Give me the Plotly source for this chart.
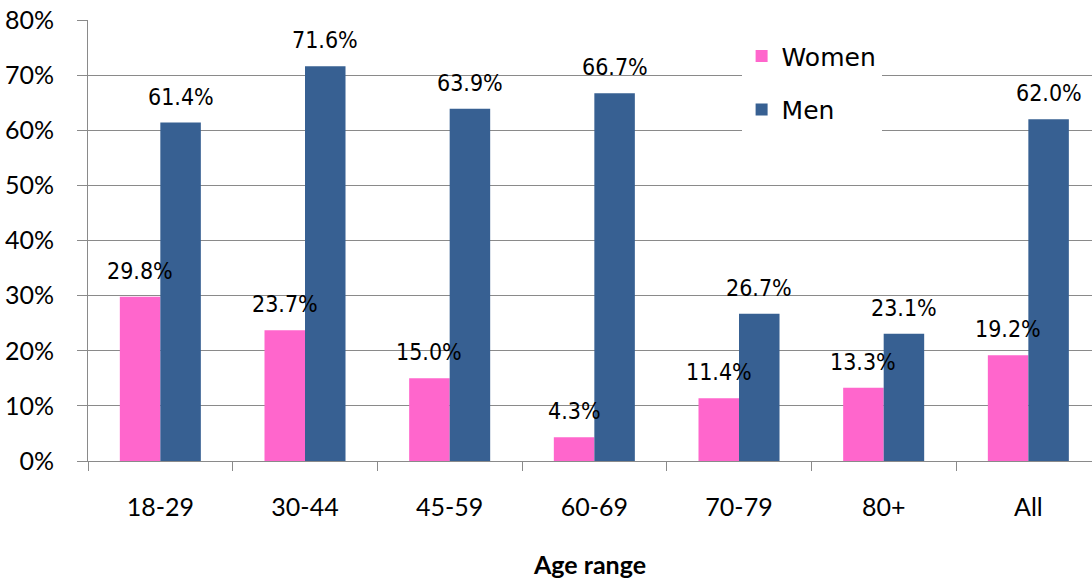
import plotly.graph_objects as go

categories = ["18-29", "30-44", "45-59", "60-69", "70-79", "80+", "All"]
women = [29.8, 23.7, 15.0, 4.3, 11.4, 13.3, 19.2]
men = [61.4, 71.6, 63.9, 66.7, 26.7, 23.1, 62.0]
y_ticks = [0, 10, 20, 30, 40, 50, 60, 70, 80]
y_tick_labels = ["0%", "10%", "20%", "30%", "40%", "50%", "60%", "70%", "80%"]

PINK = "#FF66CC"
BLUE = "#376092"
GRID = "#8a8a8a"

BARGAP = 0.44
bar_w = (1 - BARGAP) / 2

fig = go.Figure()
fig.add_trace(go.Bar(name="Women", x=categories, y=women, marker=dict(color=PINK, line=dict(width=0)),
                     legendgroup="w"))
fig.add_trace(go.Bar(name="Men", x=categories, y=men, marker=dict(color=BLUE, line=dict(width=0)),
                     legendgroup="m"))

label_font = dict(family="Liberation Sans Narrow, DejaVu Sans Condensed, sans-serif", size=23, color="black")
annotations = []
for i, (w, m) in enumerate(zip(women, men)):
    for val, off in ((w, -bar_w / 2), (m, bar_w / 2)):
        annotations.append(dict(x=i + off, y=val, xref="x", yref="y", text=f"{val:.1f}%",
                                showarrow=False, yanchor="bottom", xanchor="center",
                                yshift=11, font=label_font))

fig.update_layout(
    width=1092, height=580,
    margin=dict(l=88, r=0, t=20, b=119),
    paper_bgcolor="white", plot_bgcolor="white",
    barmode="group", bargap=BARGAP, bargroupgap=0,
    annotations=annotations,
    showlegend=True,
    legend=dict(x=0.651, y=0.97, xanchor="left", yanchor="top", bgcolor="white",
                font=dict(family="DejaVu Sans", size=25, color="black"),
                traceorder="grouped", tracegroupgap=18, borderwidth=0),
    xaxis=dict(
        type="category", range=[-0.5, 6.44],
        showline=True, linecolor=GRID, linewidth=1,
        ticks="outside", tickson="boundaries", ticklen=9, tickcolor=GRID, tickwidth=1,
        showgrid=False,
        tickfont=dict(family="Lato", size=25, color="black"),
        ticklabelstandoff=24,
        title=dict(text="<b>Age range</b>", font=dict(family="Lato", size=25, color="black"), standoff=36),
    ),
    yaxis=dict(
        range=[0, 80], tickmode="array", tickvals=y_ticks, ticktext=y_tick_labels,
        showline=True, linecolor=GRID, linewidth=1,
        ticks="outside", ticklen=10, tickcolor=GRID, tickwidth=1,
        showgrid=True, gridcolor=GRID, gridwidth=1, zeroline=False,
        tickfont=dict(family="Lato", size=25, color="black"),
        ticklabelstandoff=18,
    ),
)

fig.write_html("out.html")
